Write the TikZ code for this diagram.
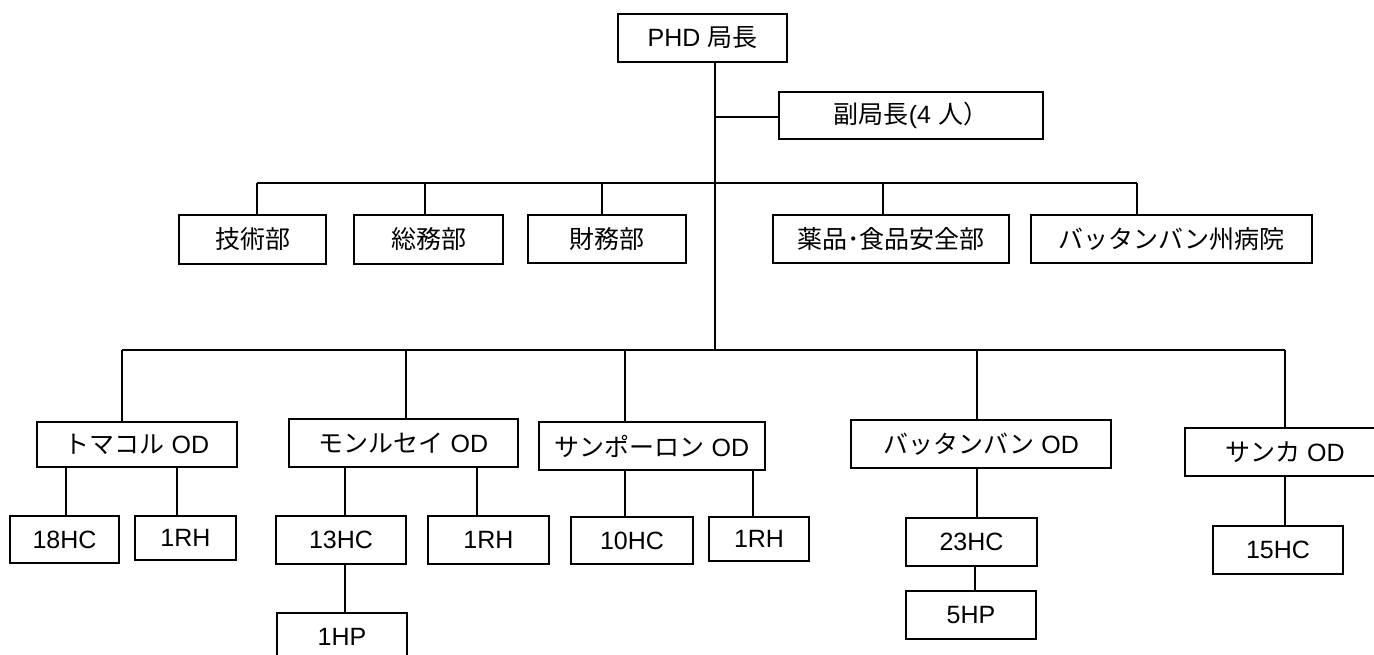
\documentclass[tikz,border=0pt]{standalone}
\usepackage{fontspec}
\setmainfont{Liberation Sans}
\newfontfamily\jp{Noto Sans CJK JP}
\begin{document}
\begin{tikzpicture}[x=1pt,y=-1pt,
  box/.style={draw, line width=1.5pt, inner sep=0pt, font=\fontsize{25}{30}\selectfont},
  ln/.style={line width=1.8pt}]
\useasboundingbox (0,0) rectangle (1374,655);
\clip (0,0) rectangle (1374,655);
% top
\node[box, minimum width=169pt, minimum height=48pt] (phd) at (702.5,38) {PHD {\jp 局長}};
\node[box, minimum width=264pt, minimum height=47pt] (fuku) at (911,115.5) {{\jp 副局長}(4 {\jp 人）}};
% departments
\node[box, minimum width=147pt, minimum height=49pt] (gi) at (252.5,239.5) {\jp 技術部};
\node[box, minimum width=149pt, minimum height=49pt] (so) at (428.5,239.5) {\jp 総務部};
\node[box, minimum width=158pt, minimum height=48pt] (zai) at (607,239) {\jp 財務部};
\node[box, minimum width=236pt, minimum height=48pt] (yaku) at (891,239) {\jp 薬品･食品安全部};
\node[box, minimum width=281pt, minimum height=48pt] (byo) at (1171.5,239) {\jp バッタンバン州病院};
% ODs
\node[box, minimum width=200pt, minimum height=45pt] (tom) at (137,444.5) {{\jp トマコル} OD};
\node[box, minimum width=229pt, minimum height=48pt] (mon) at (403.5,443) {{\jp モンルセイ} OD};
\node[box, minimum width=226pt, minimum height=48pt] (san) at (652,446) {{\jp サンポーロン} OD};
\node[box, minimum width=260pt, minimum height=48pt] (bat) at (981,444) {{\jp バッタンバン} OD};
\node[box, minimum width=200pt, minimum height=48pt] (sanka) at (1285,452) {{\jp サンカ} OD};
% units
\node[box, minimum width=109pt, minimum height=47pt] (h18) at (64.5,539.5) {18HC};
\node[box, minimum width=101pt, minimum height=44pt] (r1a) at (185.5,538) {1RH};
\node[box, minimum width=130pt, minimum height=48pt] (h13) at (341,540) {13HC};
\node[box, minimum width=121pt, minimum height=48pt] (r1b) at (488.5,540) {1RH};
\node[box, minimum width=130pt, minimum height=48pt] (hp1) at (342,637) {1HP};
\node[box, minimum width=122pt, minimum height=47pt] (h10) at (632,540.5) {10HC};
\node[box, minimum width=100pt, minimum height=44pt] (r1c) at (759,539) {1RH};
\node[box, minimum width=131pt, minimum height=48pt] (h23) at (971.5,542) {23HC};
\node[box, minimum width=130pt, minimum height=48pt] (hp5) at (971,615) {5HP};
\node[box, minimum width=130pt, minimum height=48pt] (h15) at (1278,550) {15HC};
% bus coordinates
\coordinate (t0) at (715,117);
\coordinate (tend) at (715,350);
\coordinate (dgi) at (257,183);
\coordinate (dso) at (425,183);
\coordinate (dzai) at (602,183);
\coordinate (dyaku) at (883,183);
\coordinate (dbyo) at (1137,183);
\coordinate (otom) at (122,350);
\coordinate (omon) at (406,350);
\coordinate (osan) at (625,350);
\coordinate (obat) at (977,350);
\coordinate (osanka) at (1285,350);
\coordinate (x18) at (66,0);
\coordinate (xr1a) at (177,0);
\coordinate (x13) at (345,0);
\coordinate (xr1b) at (477,0);
\coordinate (x10) at (625,0);
\coordinate (xr1c) at (753,0);
\coordinate (x23) at (977,0);
\coordinate (x5) at (975,0);
\coordinate (x15) at (1285,0);
% trunk
\draw[ln] (phd.south -| tend) -- (tend);
\draw[ln] (t0) -- (fuku.west |- t0);
% department bus
\draw[ln] (dgi) -- (dbyo);
\draw[ln] (dgi) -- (gi.north -| dgi);
\draw[ln] (dso) -- (so.north -| dso);
\draw[ln] (dzai) -- (zai.north -| dzai);
\draw[ln] (dyaku) -- (yaku.north -| dyaku);
\draw[ln] (dbyo) -- (byo.north -| dbyo);
% OD bus
\draw[ln] (otom) -- (osanka);
\draw[ln] (otom) -- (tom.north -| otom);
\draw[ln] (omon) -- (mon.north -| omon);
\draw[ln] (osan) -- (san.north -| osan);
\draw[ln] (obat) -- (bat.north -| obat);
\draw[ln] (osanka) -- (sanka.north -| osanka);
% units
\draw[ln] (tom.south -| x18) -- (h18.north -| x18);
\draw[ln] (tom.south -| xr1a) -- (r1a.north -| xr1a);
\draw[ln] (mon.south -| x13) -- (h13.north -| x13);
\draw[ln] (h13.south -| x13) -- (hp1.north -| x13);
\draw[ln] (mon.south -| xr1b) -- (r1b.north -| xr1b);
\draw[ln] (san.south -| x10) -- (h10.north -| x10);
\draw[ln] (san.south -| xr1c) -- (r1c.north -| xr1c);
\draw[ln] (bat.south -| x23) -- (h23.north -| x23);
\draw[ln] (h23.south -| x5) -- (hp5.north -| x5);
\draw[ln] (sanka.south -| x15) -- (h15.north -| x15);
\end{tikzpicture}
\end{document}
